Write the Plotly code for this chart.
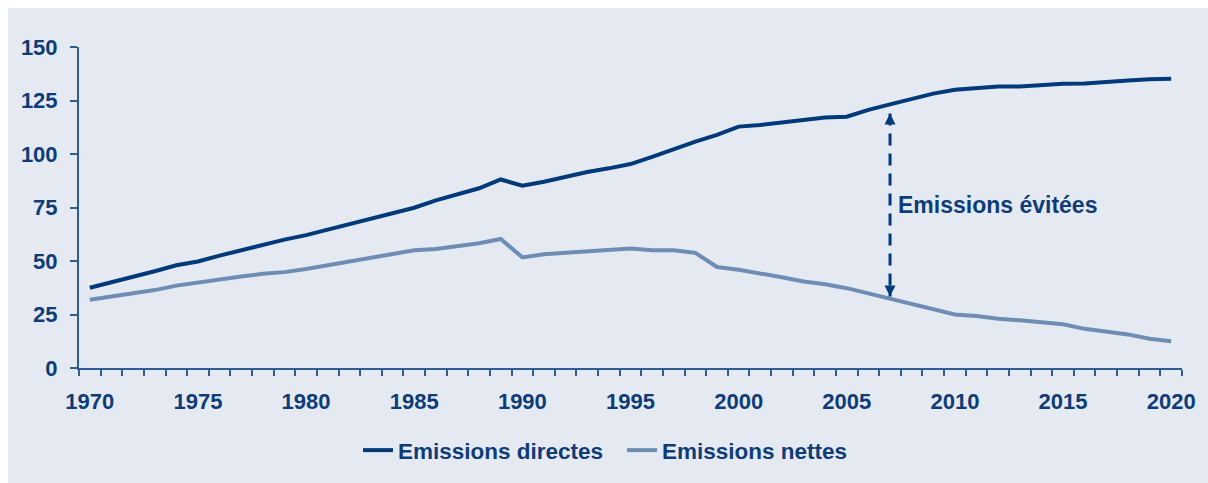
import plotly.graph_objects as go

years = list(range(1970, 2021))

emissions_directes = [
    37.5, 40.0, 42.8, 45.2, 48.0, 49.8, 52.5, 55.0, 57.6, 60.0,
    62.1, 64.7, 67.3, 70.0, 72.7, 74.9, 78.3, 81.2, 84.0, 88.1,
    85.2, 87.0, 89.4, 91.6, 93.3, 95.3, 98.7, 102.3, 105.8, 108.9,
    112.8, 113.6, 114.8, 115.6, 117.0, 117.4, 120.6, 123.2, 125.6, 128.2,
    130.0, 130.8, 131.5, 131.5, 132.2, 132.8, 133.0, 133.8, 134.3, 134.9,
    135.2,
]

emissions_nettes = [
    31.9, 33.3, 35.1, 36.4, 38.5, 40.0, 41.5, 42.8, 44.0, 44.8,
    46.3, 48.0, 49.8, 51.2, 53.2, 55.0, 55.6, 56.9, 58.3, 60.3,
    51.7, 53.2, 53.8, 54.6, 55.2, 55.8, 55.0, 55.0, 53.8, 47.2,
    45.9, 44.3, 42.4, 40.4, 39.1, 37.3, 34.8, 32.7, 30.2, 27.6,
    25.0, 24.3, 23.0, 22.3, 21.2, 20.4, 18.3, 16.9, 15.7, 13.7,
    12.5,
]

y_ticks = [0, 25, 50, 75, 100, 125, 150]
x_label_years = list(range(1970, 2021, 5))

arrow_year = 2007
arrow_top = 118.9
arrow_bottom = 33.4
annotation_text = "Emissions évitées"

BG = "#E5EAF2"
DARK = "#003A7A"
LIGHT = "#6E8DB5"
TEXT = "#0D3C78"
AXIS = "#2F5C92"
FONT = "Arial, 'Liberation Sans', sans-serif"

fig = go.Figure()

fig.add_trace(go.Scatter(
    x=years, y=emissions_directes, mode="lines", name="Emissions directes",
    line=dict(color=DARK, width=4),
))
fig.add_trace(go.Scatter(
    x=years, y=emissions_nettes, mode="lines", name="Emissions nettes",
    line=dict(color=LIGHT, width=4),
))

# double-headed dashed arrow
fig.add_trace(go.Scatter(
    x=[arrow_year, arrow_year], y=[arrow_top, arrow_bottom],
    mode="lines+markers", showlegend=False, hoverinfo="skip",
    line=dict(color=DARK, width=3, dash="12px,8px"),
    marker=dict(symbol=["arrow-up", "arrow-down"], size=11, color=DARK,
                line=dict(width=0)),
))

fig.add_annotation(
    x=arrow_year + 0.27, y=76, xref="x", yref="y",
    text=annotation_text, showarrow=False, xanchor="left", yanchor="middle",
    font=dict(family=FONT, size=23, color=TEXT, weight="bold"),
)

# white strips at top and left of the page
fig.add_shape(type="rect", xref="paper", yref="paper",
              x0=-0.2, x1=1.2, y0=(368 - 8) / 321, y1=1.3,
              fillcolor="white", line=dict(width=0), layer="above")
fig.add_shape(type="rect", xref="paper", yref="paper",
              x0=-0.2, x1=(8 - 79) / 1103, y0=-0.5, y1=1.3,
              fillcolor="white", line=dict(width=0), layer="above")

fig.update_layout(
    width=1208, height=483,
    margin=dict(l=79, r=26, t=47, b=115, autoexpand=False),
    paper_bgcolor=BG, plot_bgcolor=BG,
    font=dict(family=FONT, size=22, color=TEXT, weight="bold"),
    showlegend=True,
    legend=dict(
        orientation="h", x=(358 - 79) / 1103, xanchor="left",
        yref="container", y=1 - 450.5 / 483, yanchor="middle",
        font=dict(family=FONT, size=22.5, color=TEXT, weight="bold"),
        bgcolor="rgba(0,0,0,0)", itemwidth=30,
        entrywidth=219, entrywidthmode="pixels",
    ),
    xaxis=dict(
        range=[1969.5, 2020.5], tickmode="array", tickvals=x_label_years,
        ticktext=[str(y) for y in x_label_years],
        ticks="outside", ticklen=13, tickcolor="rgba(0,0,0,0)",
        showline=True, linecolor=AXIS, linewidth=2,
        showgrid=False, zeroline=False,
        minor=dict(ticks="outside", ticklen=6, tickwidth=1.5, tickcolor=AXIS,
                   tickmode="array",
                   tickvals=[y - 0.5 for y in years] + [2020.5], showgrid=False),
        tickfont=dict(family=FONT, size=22, color=TEXT, weight="bold"),
    ),
    yaxis=dict(
        range=[0, 150], tickmode="array", tickvals=y_ticks,
        ticks="outside", ticklen=7, tickwidth=1.5, tickcolor=AXIS,
        showline=True, linecolor=AXIS, linewidth=2,
        showgrid=False, zeroline=False,
        tickfont=dict(family=FONT, size=22, color=TEXT, weight="bold"),
        ticklabelstandoff=8,
    ),
)

fig.write_html("out.html")
